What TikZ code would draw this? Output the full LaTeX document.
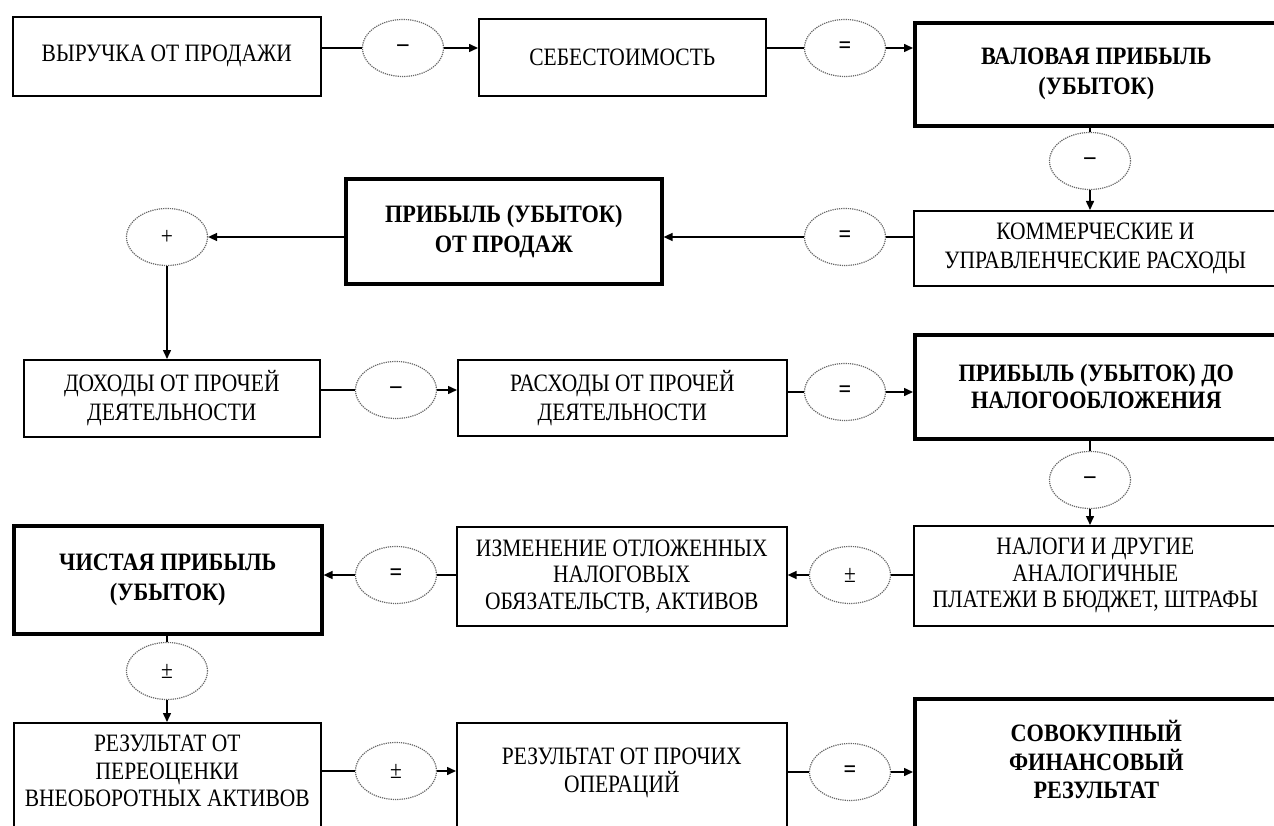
\documentclass[tikz,border=0pt]{standalone}
\usepackage{fontspec}
\setmainfont{Liberation Serif}[FakeStretch=0.86,BoldFeatures={FakeStretch=0.89}]
\usetikzlibrary{shapes.geometric,arrows.meta}

\begin{document}
\begin{tikzpicture}[x=1pt,y=-1pt,
  box/.style={draw,line width=1.6pt,align=center,inner sep=2pt,anchor=north west,font=\fontsize{25}{29}\selectfont},
  thickbox/.style={box,line width=3.6pt,font=\fontsize{25}{30}\selectfont\bfseries},
  opentop/.style={inner ysep=0pt,text width=#1,align=flush center},
  sign/.style={ellipse,draw=black!60,densely dotted,line width=1.2pt,minimum width=81,minimum height=57,inner sep=0pt,font=\fontsize{25}{25}\selectfont},
  link/.style={line width=1.5pt},
  arr/.style={link,-{Triangle[length=9pt,width=8pt]}}]
\useasboundingbox (0,0) rectangle (1274,826);
\clip (0,0) rectangle (1274,826);

% boxes
\node[box,minimum width=308,minimum height=79] (vyr) at (12,16) {ВЫРУЧКА ОТ ПРОДАЖИ};
\node[box,minimum width=287,minimum height=77] (seb) at (478,18) {СЕБЕСТОИМОСТЬ};
\node[thickbox,minimum width=363,minimum height=103] (val) at (913,21) {ВАЛОВАЯ ПРИБЫЛЬ\\(УБЫТОК)};
\node[box,minimum width=363,minimum height=75] (kom) at (913,210) {КОММЕРЧЕСКИЕ И\\УПРАВЛЕНЧЕСКИЕ РАСХОДЫ};
\node[thickbox,minimum width=316,minimum height=105] (prod) at (344,177) {ПРИБЫЛЬ (УБЫТОК)\\ОТ ПРОДАЖ};
\node[box,minimum width=296,minimum height=77] (doh) at (23,359) {ДОХОДЫ ОТ ПРОЧЕЙ\\ДЕЯТЕЛЬНОСТИ};
\node[box,minimum width=329,minimum height=76] (rash) at (457,359) {РАСХОДЫ ОТ ПРОЧЕЙ\\ДЕЯТЕЛЬНОСТИ};
\node[thickbox,minimum width=363,minimum height=104,font=\fontsize{25}{27}\selectfont\bfseries] (nal) at (913,333) {ПРИБЫЛЬ (УБЫТОК) ДО\\НАЛОГООБЛОЖЕНИЯ};
\node[box,minimum width=363,minimum height=100,font=\fontsize{25}{26.5}\selectfont] (nalogi) at (913,525) {НАЛОГИ И ДРУГИЕ\\АНАЛОГИЧНЫЕ\\ПЛАТЕЖИ В БЮДЖЕТ, ШТРАФЫ};
\node[box,minimum width=330,minimum height=99,font=\fontsize{25}{26.5}\selectfont] (otl) at (456,526) {ИЗМЕНЕНИЕ ОТЛОЖЕННЫХ\\НАЛОГОВЫХ\\ОБЯЗАТЕЛЬСТВ, АКТИВОВ};
\node[thickbox,minimum width=308,minimum height=108] (chist) at (12,524) {ЧИСТАЯ ПРИБЫЛЬ\\(УБЫТОК)};
\node[box,opentop=303pt,text height=29pt,text depth=91pt,font=\fontsize{25}{27.5}\selectfont] (pereoc) at (13,722) {РЕЗУЛЬТАТ ОТ\\ПЕРЕОЦЕНКИ\\ВНЕОБОРОТНЫХ АКТИВОВ};
\node[box,opentop=326pt,text height=42pt,text depth=78pt,font=\fontsize{25}{27.5}\selectfont] (proch) at (456,722) {РЕЗУЛЬТАТ ОТ ПРОЧИХ\\ОПЕРАЦИЙ};
\node[thickbox,opentop=359pt,text height=43pt,text depth=101pt,font=\fontsize{25}{28.5}\selectfont\bfseries] (sovok) at (913,697) {СОВОКУПНЫЙ\\ФИНАНСОВЫЙ\\РЕЗУЛЬТАТ};

% signs
\node[sign,font=\fontsize{25}{25}\selectfont\bfseries] (minus1) at (403,48) {--};
\node[sign,font=\fontsize{25}{25}\selectfont\bfseries] (eq1) at (845,48) {=};
\node[sign,font=\fontsize{25}{25}\selectfont\bfseries] (minus2) at (1090,161) {--};
\node[sign,font=\fontsize{25}{25}\selectfont\bfseries] (eq2) at (845,237) {=};
\node[sign] (plus) at (167,237) {+};
\node[sign,font=\fontsize{25}{25}\selectfont\bfseries] (minus3) at (396,390) {--};
\node[sign,font=\fontsize{25}{25}\selectfont\bfseries] (eq3) at (845,392) {=};
\node[sign,font=\fontsize{25}{25}\selectfont\bfseries] (minus4) at (1090,480) {--};
\node[sign] (pm1) at (850,575) {±};
\node[sign,font=\fontsize{25}{25}\selectfont\bfseries] (eq4) at (396,575) {=};
\node[sign] (pm2) at (167,671) {±};
\node[sign] (pm3) at (396,771) {±};
\node[sign,font=\fontsize{25}{25}\selectfont\bfseries] (eq5) at (850,772) {=};

% links
\draw[link] (vyr.east |- minus1) -- (minus1);
\draw[arr] (minus1) -- (minus1 -| seb.west);
\draw[link] (seb.east |- eq1) -- (eq1);
\draw[arr] (eq1) -- (eq1 -| val.west);
\draw[link] (val.south -| minus2) -- (minus2);
\draw[arr] (minus2) -- (minus2 |- kom.north);
\draw[link] (kom.west |- eq2) -- (eq2);
\draw[arr] (eq2) -- (eq2 -| prod.east);
\draw[arr] (prod.west |- plus) -- (plus);
\draw[arr] (plus) -- (plus |- doh.north);
\draw[link] (doh.east |- minus3) -- (minus3);
\draw[arr] (minus3) -- (minus3 -| rash.west);
\draw[link] (rash.east |- eq3) -- (eq3);
\draw[arr] (eq3) -- (eq3 -| nal.west);
\draw[link] (nal.south -| minus4) -- (minus4);
\draw[arr] (minus4) -- (minus4 |- nalogi.north);
\draw[link] (nalogi.west |- pm1) -- (pm1);
\draw[arr] (pm1) -- (pm1 -| otl.east);
\draw[link] (otl.west |- eq4) -- (eq4);
\draw[arr] (eq4) -- (eq4 -| chist.east);
\draw[link] (chist.south -| pm2) -- (pm2);
\draw[arr] (pm2) -- (pm2 |- pereoc.north);
\draw[link] (pereoc.east |- pm3) -- (pm3);
\draw[arr] (pm3) -- (pm3 -| proch.west);
\draw[link] (proch.east |- eq5) -- (eq5);
\draw[arr] (eq5) -- (eq5 -| sovok.west);
\end{tikzpicture}
\end{document}
